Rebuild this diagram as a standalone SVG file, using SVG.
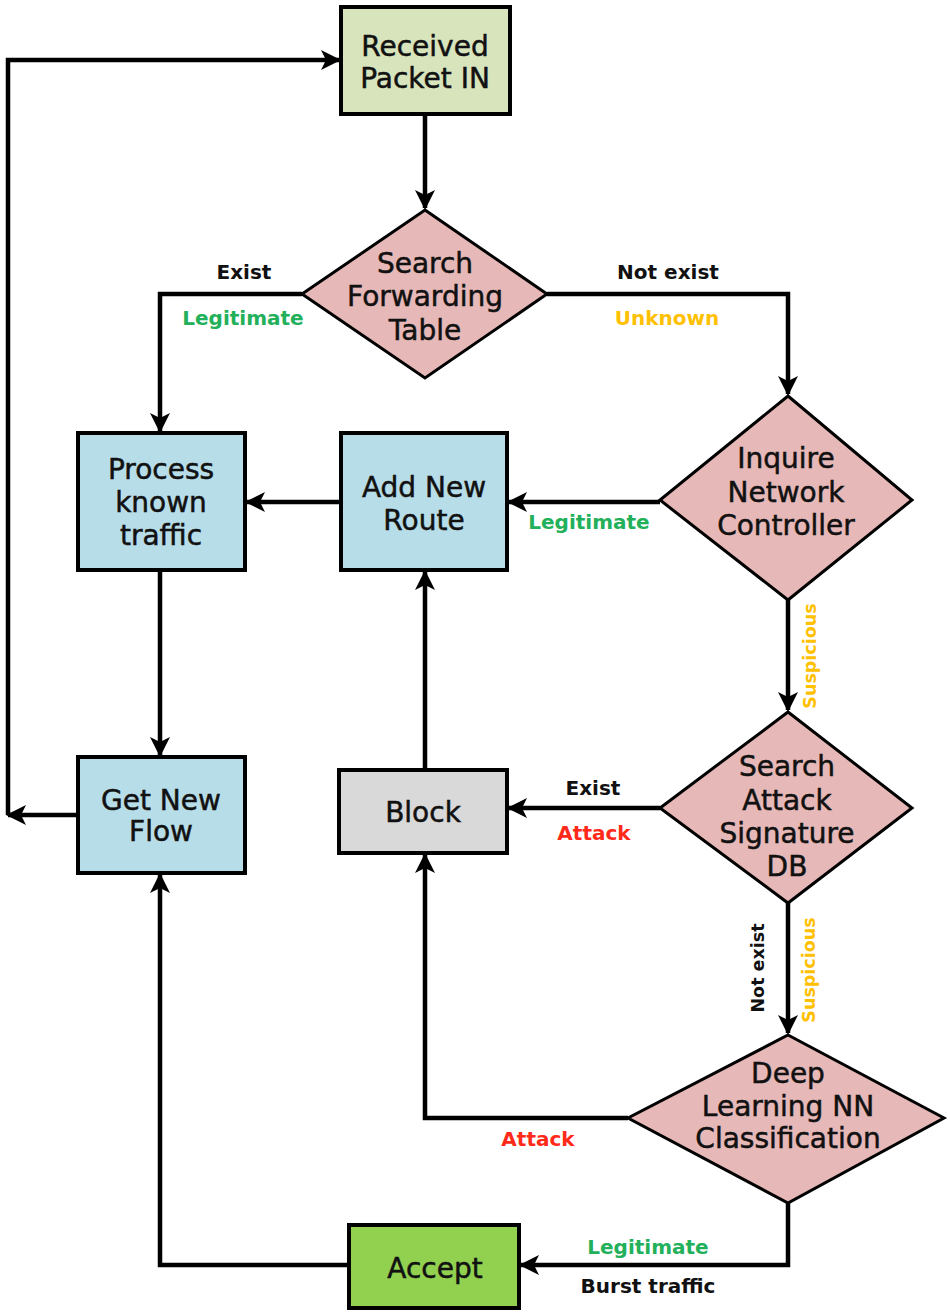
<svg xmlns="http://www.w3.org/2000/svg" width="950" height="1315" viewBox="0 0 950 1315">
<defs>
<marker id="ah" viewBox="0 0 20 20" refX="18" refY="10" markerWidth="20" markerHeight="20" markerUnits="userSpaceOnUse" orient="auto">
<path d="M0,0 L20,10 L0,20 L5,10 Z" fill="#000"/>
</marker>
<style>
.box{stroke:#000;stroke-width:4}
.dia{fill:#e6b8b7;stroke:#000;stroke-width:3}
.nt{font-family:"DejaVu Sans",sans-serif;font-size:28px;fill:#111;stroke:#111;stroke-width:0.5;text-anchor:middle}
.lb{font-family:"DejaVu Sans",sans-serif;font-size:20px;font-weight:bold;text-anchor:middle}
.rot{font-size:17.5px}
.conn{fill:none;stroke:#000;stroke-width:4.5}
.k{fill:#111}.g{fill:#22b05a}.o{fill:#ffc000}.r{fill:#ff2a1a}
</style>
</defs>
<rect width="950" height="1315" fill="#fff"/>
<g id="connectors">
<path class="conn" d="M425,114 V208" marker-end="url(#ah)"/>
<path class="conn" d="M302,294 H160 V431" marker-end="url(#ah)"/>
<path class="conn" d="M547,294 H788 V394" marker-end="url(#ah)"/>
<path class="conn" d="M341,502 H247" marker-end="url(#ah)"/>
<path class="conn" d="M660,502 H509" marker-end="url(#ah)"/>
<path class="conn" d="M788,600 V710" marker-end="url(#ah)"/>
<path class="conn" d="M660,808 H509" marker-end="url(#ah)"/>
<path class="conn" d="M425,770 V572" marker-end="url(#ah)"/>
<path class="conn" d="M788,903 V1033" marker-end="url(#ah)"/>
<path class="conn" d="M628,1118 H425 V855" marker-end="url(#ah)"/>
<path class="conn" d="M788,1203 V1265 H521" marker-end="url(#ah)"/>
<path class="conn" d="M349,1265 H160 V875" marker-end="url(#ah)"/>
<path class="conn" d="M160,570 V755" marker-end="url(#ah)"/>
<path class="conn" d="M78,815 H8" marker-end="url(#ah)"/>
<path class="conn" d="M8,815 V60 H339" marker-end="url(#ah)"/>
</g>
<g id="labels">
<text class="lb k" x="244" y="279">Exist</text>
<text class="lb g" x="243" y="325">Legitimate</text>
<text class="lb k" x="668" y="279">Not exist</text>
<text class="lb o" x="667" y="325">Unknown</text>
<text class="lb g" x="589" y="529">Legitimate</text>
<text class="lb rot o" transform="translate(816,656) rotate(-90)">Suspicious</text>
<text class="lb rot k" transform="translate(764,968) rotate(-90)">Not exist</text>
<text class="lb rot o" transform="translate(815,970) rotate(-90)">Suspicious</text>
<text class="lb k" x="593" y="795">Exist</text>
<text class="lb r" x="594" y="840">Attack</text>
<text class="lb r" x="538" y="1146">Attack</text>
<text class="lb g" x="648" y="1254">Legitimate</text>
<text class="lb k" x="648" y="1293">Burst traffic</text>
</g>
<g id="received">
<rect class="box" x="341" y="7" width="169" height="107" fill="#d8e4bc"/>
<text class="nt" x="425" y="56">Received</text>
<text class="nt" x="425" y="88">Packet IN</text>
</g>
<g id="search-forwarding">
<polygon class="dia" points="425,210 547,294 425,378 302,294"/>
<text class="nt" x="425" y="273">Search</text>
<text class="nt" x="425" y="306">Forwarding</text>
<text class="nt" x="425" y="340">Table</text>
</g>
<g id="process-known">
<rect class="box" x="78" y="433" width="167" height="137" fill="#b7dde8"/>
<text class="nt" x="161" y="479">Process</text>
<text class="nt" x="161" y="512">known</text>
<text class="nt" x="161" y="545">traffic</text>
</g>
<g id="add-route">
<rect class="box" x="341" y="433" width="166" height="137" fill="#b7dde8"/>
<text class="nt" x="424" y="497">Add New</text>
<text class="nt" x="424" y="530">Route</text>
</g>
<g id="inquire">
<polygon class="dia" points="788,396 912,500 788,600 660,500"/>
<text class="nt" x="786" y="468">Inquire</text>
<text class="nt" x="786" y="502">Network</text>
<text class="nt" x="786" y="535">Controller</text>
</g>
<g id="search-attack">
<polygon class="dia" points="788,712 912,808 788,903 660,808"/>
<text class="nt" x="787" y="776">Search</text>
<text class="nt" x="787" y="810">Attack</text>
<text class="nt" x="787" y="843">Signature</text>
<text class="nt" x="787" y="876">DB</text>
</g>
<g id="block">
<rect class="box" x="339" y="770" width="168" height="83" fill="#d9d9d9"/>
<text class="nt" x="423" y="822">Block</text>
</g>
<g id="get-flow">
<rect class="box" x="78" y="757" width="167" height="116" fill="#b7dde8"/>
<text class="nt" x="161" y="810">Get New</text>
<text class="nt" x="161" y="841">Flow</text>
</g>
<g id="deep-learning">
<polygon class="dia" points="788,1035 944,1118 788,1203 628,1118"/>
<text class="nt" x="788" y="1083">Deep</text>
<text class="nt" x="788" y="1116">Learning NN</text>
<text class="nt" x="788" y="1148">Classification</text>
</g>
<g id="accept">
<rect class="box" x="349" y="1225" width="170" height="83" fill="#92d050"/>
<text class="nt" x="435" y="1278">Accept</text>
</g>
</svg>
